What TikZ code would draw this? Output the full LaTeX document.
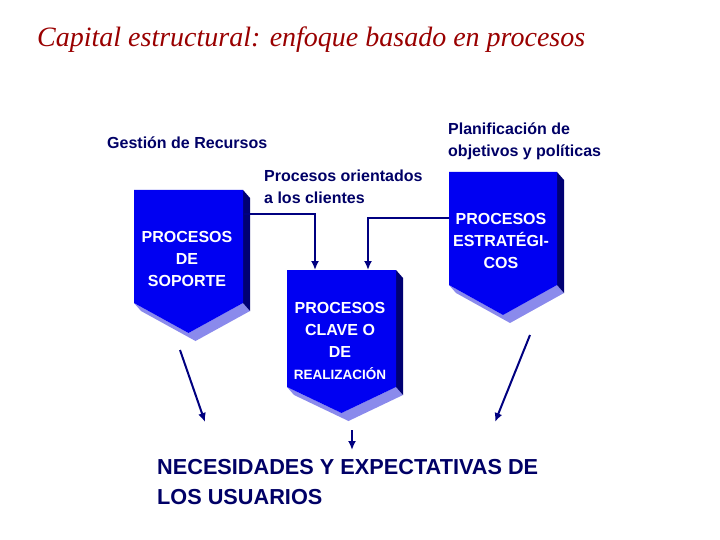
\documentclass[tikz,border=0pt]{standalone}
\usepackage{fontspec}
\setmainfont{Liberation Serif}
\setsansfont{Liberation Sans}
\begin{document}
\begin{tikzpicture}[x=1pt,y=-1pt,
  front/.style={fill=blue!95!black},
  side/.style={fill=blue!45!black},
  under/.style={fill=blue!45!white!85!gray},
  lbl/.style={font=\sffamily\bfseries\fontsize{16}{22}\selectfont,text=blue!40!black,align=left,anchor=west,inner sep=0},
  btxt/.style={font=\sffamily\bfseries\fontsize{16}{22}\selectfont,text=white,align=center,inner sep=0},
  arr/.style={draw=blue!50!black,line width=2pt,-{Latex[length=9pt,width=8pt]}}]
\usetikzlibrary{arrows.meta}
\useasboundingbox (0,0) rectangle (720,540);
\newcommand\pbox[6]{% x1,x2,top,cornery,tipy,name
  \path[under] (#1,#4) -- ({(#1+#2)/2},#5) -- (#2,#4) -- (#2+7,#4+8) -- ({(#1+#2)/2+7},#5+8) -- (#1+7,#4+8) -- cycle;
  \path[side] (#2,#3) -- (#2+7,#3+8) -- (#2+7,#4+8) -- (#2,#4) -- cycle;
  \path[front] (#1,#3) -- (#2,#3) -- (#2,#4) -- ({(#1+#2)/2},#5) -- (#1,#4) -- cycle;
  \coordinate (#6) at ({(#1+#2)/2},#3);
}
\node[font=\itshape\fontsize{28}{32}\selectfont,text=red!60!black,anchor=west,inner sep=0] (title) at (37,40) {Capital estructural: enfoque basado en procesos};
\pbox{134}{243}{190}{303}{333}{b1}
\pbox{287}{396}{270}{387}{413}{b2}
\pbox{449}{557}{172}{285}{315}{b3}
\node[btxt] (t1) at (187,259) {PROCESOS\\DE\\SOPORTE};
\node[btxt] (t2) at (340,341) {PROCESOS\\CLAVE O\\DE\\{\fontsize{13.5}{16}\selectfont REALIZACIÓN}};
\node[btxt] (t3) at (501,241) {PROCESOS\\ESTRATÉGI-\\COS};
\node[lbl] (l1) at (107,143) {Gestión de Recursos};
\node[lbl] (l2) at (264,187) {Procesos orientados\\a los clientes};
\node[lbl] (l3) at (448,141) {Planificación de\\objetivos y políticas};
\node[font=\sffamily\bfseries\fontsize{21.7}{30}\selectfont,text=blue!40!black,align=left,anchor=west,inner sep=0] (need) at (157,482) {NECESIDADES Y EXPECTATIVAS DE\\LOS USUARIOS};
\coordinate (a1) at (243,214); \coordinate (a1b) at (315,214); \coordinate (a1e) at (315,270);
\coordinate (a3) at (449,218); \coordinate (a3b) at (368,218); \coordinate (a3e) at (368,270);
\draw[arr] (a1) -- (a1b) -- (a1e);
\draw[arr] (a3) -- (a3b) -- (a3e);
\coordinate (d1) at (180,350); \coordinate (d1e) at (205,422);
\coordinate (d3) at (530,335); \coordinate (d3e) at (495,422);
\coordinate (d2) at (352,430); \coordinate (d2e) at (352,450);
\draw[arr] (d1) -- (d1e);
\draw[arr] (d3) -- (d3e);
\draw[arr] (d2) -- (d2e);
\end{tikzpicture}
\end{document}
